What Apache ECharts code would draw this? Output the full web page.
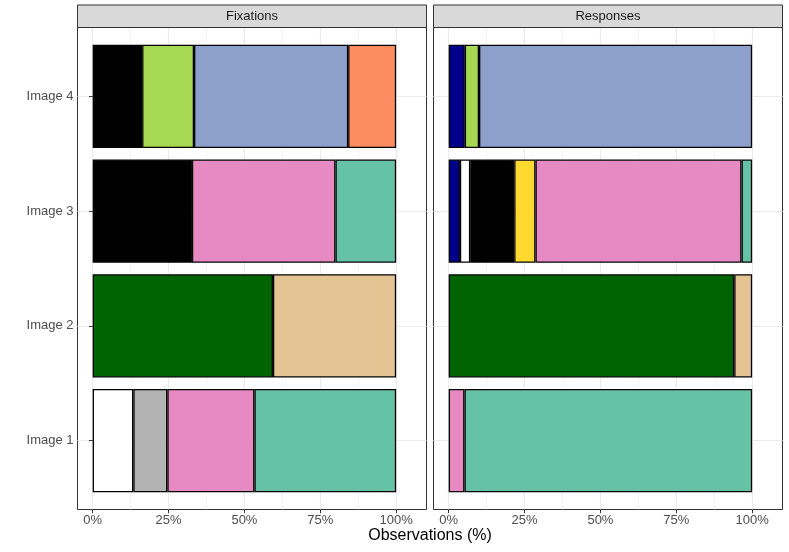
<!DOCTYPE html>
<html>
<head>
<meta charset="utf-8">
<script src="https://cdn.jsdelivr.net/npm/echarts@6/dist/echarts.min.js"></script>
<style>html,body{margin:0;padding:0;background:#fff}#c{width:789px;height:552px}</style>
</head>
<body>
<div id="c"></div>
<script>
// ---- data (order: Image 1, Image 2, Image 3, Image 4) ----
const categories = ['Image 1', 'Image 2', 'Image 3', 'Image 4'];
const panels = ['Fixations', 'Responses'];
const xTicks = [0, 25, 50, 75, 100];
const xMinorTicks = [12.5, 37.5, 62.5, 87.5];

const fixNavy    = [null, null, null, null];
const fixWhite   = [13.4, null, null, null];
const fixGrey    = [11.2, null, null, null];
const fixBlack   = [null, null, 32.7, 16.3];
const fixDkGreen = [null, 59.4, null, null];
const fixYellow  = [null, null, null, null];
const fixGreen   = [null, null, null, 17.1];
const fixPink    = [28.7, null, 47.3, null];
const fixBlue    = [null, null, null, 50.8];
const fixTan     = [null, 40.6, null, null];
const fixTeal    = [46.7, null, 20.0, null];
const fixOrange  = [null, null, null, 15.8];

const respNavy    = [null, null, 3.7, 5.3];
const respWhite   = [null, null, 3.4, null];
const respGrey    = [null, null, null, null];
const respBlack   = [null, null, 14.5, null];
const respDkGreen = [null, 94.1, null, null];
const respYellow  = [null, null, 7.0, null];
const respGreen   = [null, null, null, 4.7];
const respPink    = [5.2, null, 67.9, null];
const respBlue    = [null, null, null, 90.0];
const respTan     = [null, 5.9, null, null];
const respTeal    = [94.8, null, 3.5, null];
const respOrange  = [null, null, null, null];

// stacking order and fills
const groups = [
  ['navy',    '#00008B', fixNavy,    respNavy],
  ['white',   '#FFFFFF', fixWhite,   respWhite],
  ['grey',    '#B3B3B3', fixGrey,    respGrey],
  ['black',   '#000000', fixBlack,   respBlack],
  ['dkgreen', '#006400', fixDkGreen, respDkGreen],
  ['yellow',  '#FFD92F', fixYellow,  respYellow],
  ['green',   '#A6D854', fixGreen,   respGreen],
  ['pink',    '#E78AC3', fixPink,    respPink],
  ['blue',    '#8DA0CB', fixBlue,    respBlue],
  ['tan',     '#E5C494', fixTan,     respTan],
  ['teal',    '#66C2A5', fixTeal,    respTeal],
  ['orange',  '#FC8D62', fixOrange,  respOrange]
];

// ---- layout ----
const FONT = '"Liberation Sans", Arial, Helvetica, sans-serif';
const panelLeft = [77.5, 433.5];
const panelW = 349;
const panelTop = 27.5;
const panelH = 482;
const unit = panelH / 4.2;
const dataTop = panelTop + 0.1 * unit;
const dataH = 4 * unit;
const XMIN = -5, XMAX = 110;

const grid = [], xAxis = [], yAxis = [], series = [];
panels.forEach((p, i) => {
  // outer panel grid (index 2i), data grid (2i+1)
  grid.push({left: panelLeft[i], top: panelTop, width: panelW, height: panelH,
    show: true, borderColor: '#333333', borderWidth: 1, backgroundColor: '#fff', containLabel: false});
  grid.push({left: panelLeft[i], top: dataTop, width: panelW, height: dataH, show: false, containLabel: false});
  const gA = 2 * i, gB = 2 * i + 1;
  // major x axis on panel
  xAxis.push({type: 'value', gridIndex: gA, min: XMIN, max: XMAX, position: 'bottom',
    axisLine: {show: false},
    axisTick: {show: true, customValues: xTicks, length: 3.7, lineStyle: {color: '#333333', width: 1}},
    axisLabel: {show: true, customValues: xTicks, formatter: v => v + '%', color: '#4D4D4D',
      fontSize: 13, fontFamily: FONT, margin: 4},
    splitLine: {show: true, lineStyle: {color: '#EBEBEB', width: 1.1}}});
  // minor x grid lines
  xAxis.push({type: 'value', gridIndex: gA, min: XMIN, max: XMAX, position: 'top',
    axisLine: {show: false},
    axisTick: {show: false, customValues: xMinorTicks},
    axisLabel: {show: false, customValues: xMinorTicks},
    splitLine: {show: true, lineStyle: {color: '#F0F0F0', width: 0.6}}});
  // data x axis
  xAxis.push({type: 'value', gridIndex: gB, min: XMIN, max: XMAX, show: false,
    splitLine: {show: false}});
  // panel y axis (value, for gridlines / labels)
  yAxis.push({type: 'value', gridIndex: gA, min: 0.4, max: 4.6,
    axisLine: {show: false},
    axisTick: {show: i === 0, customValues: [1, 2, 3, 4], length: 3.7, lineStyle: {color: '#333333', width: 1}},
    axisLabel: {show: i === 0, customValues: [1, 2, 3, 4], formatter: v => categories[Math.round(v) - 1],
      color: '#4D4D4D', fontSize: 13, fontFamily: FONT, margin: 4},
    splitLine: {show: true, lineStyle: {color: '#EBEBEB', width: 1.1}}});
  // data y axis (category)
  yAxis.push({type: 'category', gridIndex: gB, data: categories, show: false});

  const xIdx = 3 * i + 2, yIdx = 2 * i + 1;
  groups.forEach(g => {
    const vals = i === 0 ? g[2] : g[3];
    if (vals.every(v => v === null)) return;
    series.push({
      type: 'bar', name: g[0], stack: p, xAxisIndex: xIdx, yAxisIndex: yIdx,
      barWidth: '90%', data: vals,
      itemStyle: {color: g[1], borderColor: '#000', borderWidth: 1.3},
      emphasis: {disabled: true}, silent: true
    });
  });
});

const graphic = [];
panels.forEach((p, i) => {
  graphic.push({type: 'rect', shape: {x: panelLeft[i], y: 5, width: panelW, height: panelTop - 5},
    style: {fill: '#D9D9D9', stroke: '#333333', lineWidth: 1}, z: 10});
  graphic.push({type: 'text', x: panelLeft[i] + panelW / 2, y: (5 + panelTop) / 2,
    style: {text: p, fill: '#1A1A1A', font: '13px ' + FONT, textAlign: 'center', textVerticalAlign: 'middle'}, z: 11});
});
graphic.push({type: 'text', x: (panelLeft[0] + panelLeft[1] + panelW) / 2, y: 536,
  style: {text: 'Observations (%)', fill: '#000', font: '16px ' + FONT, textAlign: 'center', textVerticalAlign: 'middle'}, z: 11});

const chart = echarts.init(document.getElementById('c'), null, {renderer: 'canvas'});
chart.setOption({
  animation: false,
  backgroundColor: '#fff',
  grid, xAxis, yAxis, series, graphic
});
</script>
</body>
</html>
